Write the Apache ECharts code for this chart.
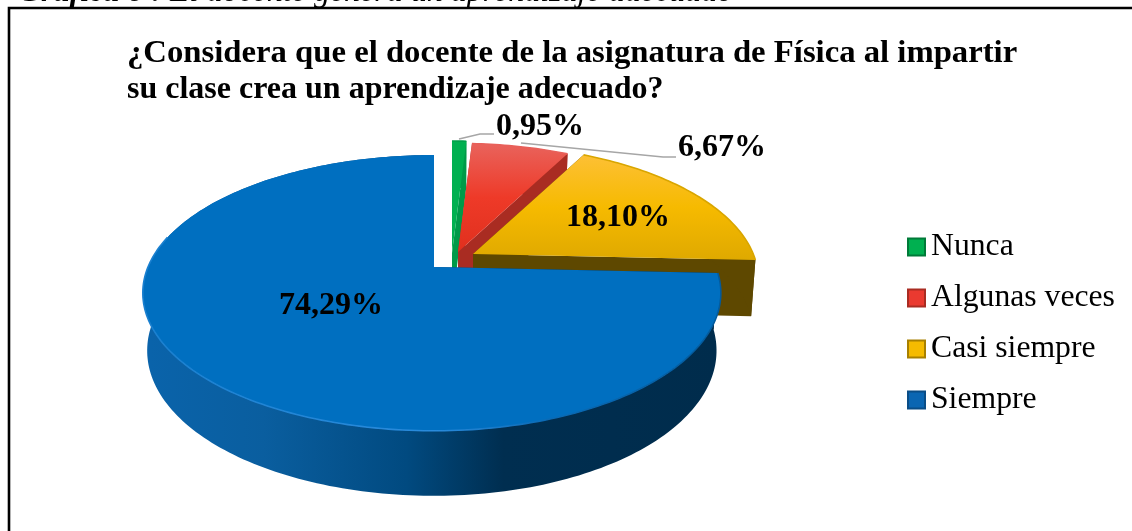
<!DOCTYPE html>
<html><head><meta charset="utf-8">
<style>html,body{margin:0;padding:0;background:#fff}#c{width:1132px;height:531px}</style>
<script src="https://cdn.jsdelivr.net/npm/echarts@6/dist/echarts.min.js"></script>
</head><body><div id="c"></div>
<script>
const categories = ['Nunca','Algunas veces','Casi siempre','Siempre'];
const values = [0.95,6.67,18.10,74.29];
const valueLabels = ['0,95%','6,67%','18,10%','74,29%'];
const titleLines = ['¿Considera que el docente de la asignatura de Física al impartir','su clase crea un aprendizaje adecuado?'];
const captionBold = 'Gráfica 6 : ';
const captionRest = 'El docente genera un aprendizaje adecuado';

const SERIF = '"Liberation Serif","Times New Roman",serif';
const v = (stops)=>({type:'linear',x:0,y:0,x2:0,y2:1,colorStops:stops.map((c,i)=>({offset:i/(stops.length-1),color:c}))});
const styles = [
 {apex:[452,253],s:1,top:'#00b050',wall:'#009a48',edge:'#00a04a',lab:[540,127],legend:'#00b050',lb:'#007a38',
  leader:[[459,139],[480,134],[494,134]]},
 {apex:[458,252],s:.97,top:v(['#e9635c','#ee3a28','#e0301e']),wall:'#a92c22',edge:'#e8605a',lab:[722,148],legend:'#ea3a30',lb:'#a92c22',
  leader:[[521,143],[663,157],[676,157]]},
 {apex:[473,254],s:.98,top:v(['#fdc035','#f6ba00','#dfa900']),wall:'#5e4800',edge:'#d9a600',lab:[618,218],legend:'#f5bb00',lb:'#a88000'},
 {apex:[434,267],s:1,sR:.985,edgeFrom:-0.25,top:'#006fc0',wall:{type:'linear',global:true,x:150,y:0,x2:720,y2:0,colorStops:[
   {offset:0,color:'#0a63aa'},{offset:.2,color:'#0a5e9f'},{offset:.45,color:'#014a80'},{offset:.62,color:'#002e50'},{offset:1,color:'#002c4c'}]},
  edge:{type:'linear',global:true,x:150,y:0,x2:720,y2:0,colorStops:[
   {offset:0,color:'#1a80d0'},{offset:.5,color:'#2a8bdc'},{offset:.7,color:'#0a6ab5'},{offset:1,color:'#035a9c'}]},
  lab:[331,306],legend:'#0b66b2',lb:'#0a4d86'}
];
const K=286, A=133, P=-0.188;
const total = values.reduce((a,b)=>a+b,0);
function proj(t, st){
  const u=Math.sin(t), w=-Math.cos(t), d=1+P*w;
  const sx=st.s*(u>0&&st.sR?st.sR:1);
  return {x:st.apex[0]+sx*K*u/d, y:st.apex[1]+st.s*A*w/d, w};
}
function down(p, st){
  const h=56+9*p.w;
  return [st.apex[0]+(p.x-st.apex[0])*.985, p.y+h];
}
function slice(i){
  const st=styles[i];
  let a0=0; for(let k=0;k<i;k++) a0+=values[k];
  const t0=a0/total*2*Math.PI, t1=(a0+values[i])/total*2*Math.PI;
  const n=Math.max(4,Math.ceil((t1-t0)/0.02));
  const arc=[]; for(let k=0;k<=n;k++) arc.push(proj(t0+(t1-t0)*k/n,st));
  const top=arc.map(p=>[p.x,p.y]);
  const low=arc.map(p=>down(p,st));
  const ap=st.apex, apLow=[ap[0],ap[1]+56];
  const kids=[];
  const poly=(pts,fill)=>kids.push({type:'polygon',shape:{points:pts},style:{fill}});
  poly([ap,top[0],low[0],apLow],st.wall);
  poly([ap,top[n],low[n],apLow],st.wall);
  poly(top.concat(low.slice().reverse()),st.wall);
  poly([ap].concat(top),st.top);
  const rim=st.edgeFrom===undefined?top:arc.filter(p=>p.w>st.edgeFrom).map(p=>[p.x,p.y]);
  kids.push({type:'polyline',shape:{points:rim},style:{fill:'none',stroke:st.edge,lineWidth:1.6}});
  if(st.leader) kids.push({type:'polyline',shape:{points:st.leader},style:{fill:'none',stroke:'#a6a6a6',lineWidth:1.5}});
  kids.push({type:'text',z2:10,style:{text:valueLabels[i],x:st.lab[0],y:st.lab[1],align:'center',verticalAlign:'middle',
    fill:'#000',font:'bold 32px '+SERIF}});
  return {type:'group',children:kids};
}
const titleFont='bold 32px '+SERIF;
const chart=echarts.init(document.getElementById('c'),null,{renderer:'canvas'});
chart.setOption({
  animation:false,
  backgroundColor:'#fff',
  legend:{orient:'vertical',left:907,top:231,padding:0,itemWidth:17,itemHeight:17,itemGap:19,
    selectedMode:false,
    textStyle:{fontFamily:SERIF,fontSize:31.7,color:'#000',padding:[0,0,0,1]},
    data:categories.map((name,i)=>({name,icon:'rect',itemStyle:{color:styles[i].legend,borderColor:styles[i].lb,borderWidth:2}}))},
  graphic:[
    {type:'polyline',silent:true,shape:{points:[[1140,8],[9,8],[9,540]]},style:{fill:'none',stroke:'#000',lineWidth:2.6}},
    {type:'text',silent:true,style:{text:'{b|'+captionBold+'}{r|'+captionRest+'}',x:18,y:-23,
      rich:{b:{font:'italic bold 32px '+SERIF,fill:'#000'},r:{font:'italic 32px '+SERIF,fill:'#000'}}}},
    {type:'text',silent:true,x:127,y:54,scaleX:1.022,style:{text:titleLines[0],x:0,y:0,verticalAlign:'middle',font:titleFont,fill:'#000'}},
    {type:'text',silent:true,x:127,y:90,style:{text:titleLines[1],x:0,y:0,verticalAlign:'middle',font:titleFont,fill:'#000'}}
  ],
  series:categories.map((name,i)=>({
    type:'custom',name,coordinateSystem:'none',silent:true,
    itemStyle:{color:styles[i].legend},
    data:[{name,value:values[i]}],
    renderItem:()=>slice(i)
  }))
});
</script></body></html>
